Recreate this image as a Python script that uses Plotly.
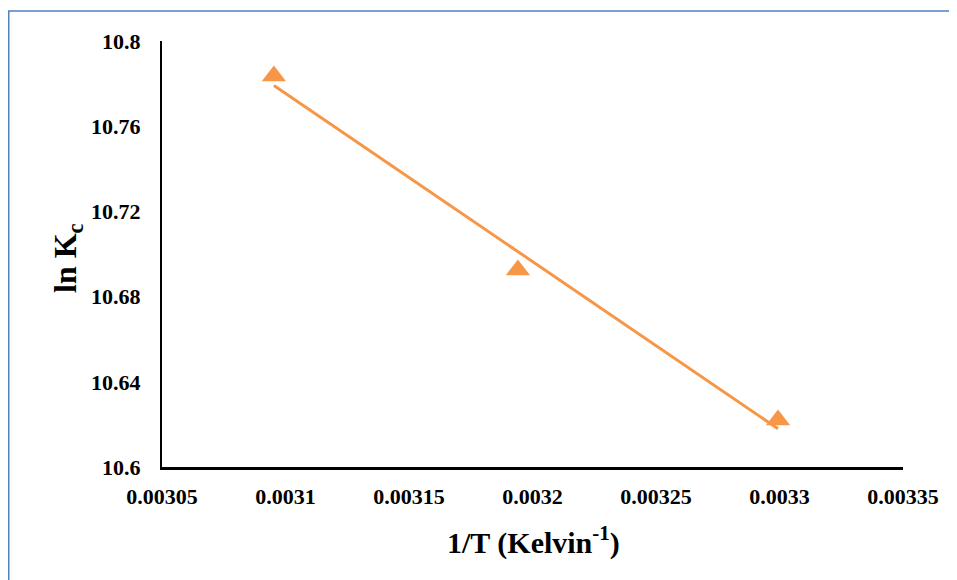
import numpy as np
import plotly.graph_objects as go

# data
inv_T = [0.0030953, 0.0031941, 0.0032994]
ln_Kc = [10.7836, 10.6925, 10.6221]

x_tickvals = [0.00305, 0.0031, 0.00315, 0.0032, 0.00325, 0.0033, 0.00335]
x_ticktext = ["0.00305", "0.0031", "0.00315", "0.0032", "0.00325", "0.0033", "0.00335"]
y_tickvals = [10.6, 10.64, 10.68, 10.72, 10.76, 10.8]
y_ticktext = ["10.6", "10.64", "10.68", "10.72", "10.76", "10.8"]

ORANGE = "#F79646"
FONT = "'Liberation Serif', 'Times New Roman', Times, serif"

# page body has an 8px margin: figure origin sits at screen (8, 8)
OFF = 8
W, H = 957 - OFF, 580 - OFF
L, R, T, B = 162 - OFF, 54, 41 - OFF, 113
pw, ph = W - L - R, H - T - B

def px_x(p):  # screen px -> paper
    return (p - OFF - L) / pw

def px_y(p):
    return (H - B - (p - OFF)) / ph

slope, icpt = np.polyfit(inv_T, ln_Kc, 1)
fit_x = [min(inv_T), max(inv_T)]
fit_y = [slope * v + icpt for v in fit_x]

fig = go.Figure()
fig.add_trace(go.Scatter(x=fit_x, y=fit_y, mode="lines",
                         line=dict(color=ORANGE, width=3), showlegend=False,
                         hoverinfo="skip"))
fig.add_trace(go.Scatter(x=inv_T, y=ln_Kc, mode="markers",
                         marker=dict(symbol="triangle-up", size=21, color=ORANGE),
                         showlegend=False, cliponaxis=False))

fig.update_layout(
    width=W, height=H,
    margin=dict(l=L, r=R, t=T, b=B, autoexpand=False),
    plot_bgcolor="white", paper_bgcolor="white",
    font=dict(family=FONT, color="black"),
    xaxis=dict(range=[0.00305, 0.00335], tickvals=x_tickvals, ticktext=x_ticktext,
               showgrid=False, zeroline=False, showline=True, linecolor="black",
               linewidth=2.5, ticks="", ticklabelstandoff=8,
               tickfont=dict(family=FONT, size=22, color="black", weight="bold")),
    yaxis=dict(range=[10.6, 10.8], tickvals=y_tickvals, ticktext=y_ticktext,
               showgrid=False, zeroline=False, showline=True, linecolor="black",
               linewidth=2, ticks="", ticklabelstandoff=15,
               tickfont=dict(family=FONT, size=22, color="black", weight="bold")),
    annotations=[
        dict(text="<b>1/T (Kelvin<sup>-1</sup>)</b>", xref="paper", yref="paper",
             x=px_x(533), y=px_y(540), xanchor="center", yanchor="middle",
             showarrow=False, font=dict(family=FONT, size=30, color="black")),
        dict(text="<b>ln K<sub>c</sub></b>", xref="paper", yref="paper",
             x=px_x(67), y=px_y(258), xanchor="center", yanchor="middle",
             textangle=-90, showarrow=False,
             font=dict(family=FONT, size=32, color="black")),
    ],
    shapes=[
        dict(type="path", xref="paper", yref="paper",
             path=f"M {px_x(960)} {px_y(11)} L {px_x(8.75)} {px_y(11)} L {px_x(8.75)} {px_y(590)}",
             line=dict(color="#4F81BD", width=1.5)),
    ],
)

fig.write_html("out.html")
